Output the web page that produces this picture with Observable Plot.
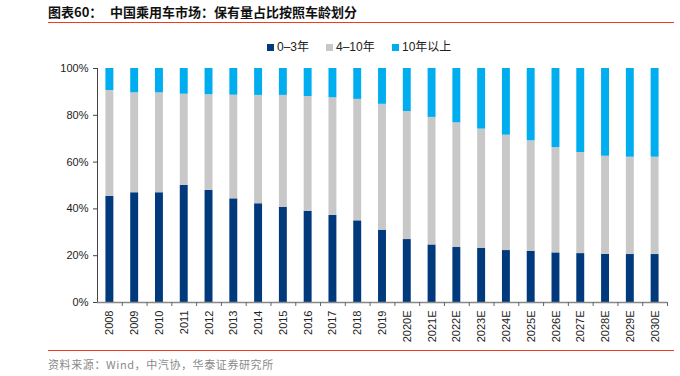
<!DOCTYPE html>
<html>
<head>
<meta charset="utf-8">
<script src="https://cdn.jsdelivr.net/npm/d3@7"></script>
<script src="https://cdn.jsdelivr.net/npm/@observablehq/plot@0.6"></script>
<style>
  html, body { margin: 0; padding: 0; background: #fff; }
  #wrap { position: relative; width: 680px; height: 376px; overflow: hidden; font-family: "Liberation Sans", Arial, "Noto Sans CJK SC", sans-serif; }
  #chart { position: absolute; left: 0; top: 0; }
  .abs { position: absolute; white-space: nowrap; }
  .rule { position: absolute; left: 48px; width: 626px; height: 1px; background: #EE3B22; }
  .title { font-family: "Noto Sans CJK SC", sans-serif; font-weight: bold; font-size: 13px; color: #111; line-height: 16px; }
  .src { font-family: "Noto Sans CJK SC", sans-serif; font-size: 11px; color: #8a8a8a; line-height: 14px; letter-spacing: 0.6px; }
  .leg { font-family: "Liberation Sans", Arial, "Noto Sans CJK SC", sans-serif; font-size: 12px; color: #222; line-height: 14px; display: flex; align-items: center; }
  .sw { display: inline-block; width: 7px; height: 7px; margin-right: 3px; }
</style>
</head>
<body>
<div id="wrap">
  <div id="chart"></div>
  <div class="abs title" style="left:48px; top:4px;">图表60：</div>
  <div class="abs title" style="left:110px; top:4px;">中国乘用车市场：保有量占比按照车龄划分</div>
  <div class="rule" style="top:22px;"></div>
  <div id="legend"></div>
  <div class="rule" style="top:350px;"></div>
  <div class="abs src" style="left:48px; top:357px;">资料来源：Wind，中汽协，华泰证券研究所</div>
</div>
<script>
const years = ["2008","2009","2010","2011","2012","2013","2014","2015","2016","2017","2018","2019","2020E","2021E","2022E","2023E","2024E","2025E","2026E","2027E","2028E","2029E","2030E"];
const seriesNames = ["0-3年", "4-10年", "10年以上"];
const seriesColors = ["#003A7D", "#C8C8C8", "#00AEEF"];
const share0to3 = [45.4, 46.9, 46.9, 50.0, 47.9, 44.3, 42.2, 40.6, 39.0, 37.2, 34.9, 30.9, 26.9, 24.6, 23.5, 23.1, 22.2, 21.8, 21.2, 20.9, 20.6, 20.5, 20.5];
const share4to10 = [45.2, 42.7, 42.7, 39.0, 40.9, 44.3, 46.3, 47.9, 49.0, 50.3, 51.9, 53.8, 54.7, 54.5, 53.3, 51.0, 49.3, 47.3, 45.0, 43.2, 41.9, 41.6, 41.6];
const share10plus = [9.4, 10.4, 10.4, 11.0, 11.2, 11.4, 11.5, 11.5, 12.0, 12.5, 13.2, 15.3, 18.4, 20.9, 23.2, 25.9, 28.5, 30.9, 33.8, 35.9, 37.5, 37.9, 37.9];
const yTicks = [0, 20, 40, 60, 80, 100];

const seriesValues = [share0to3, share4to10, share10plus];
const data = [];
seriesNames.forEach((s, si) => {
  years.forEach((yr, i) => data.push({ year: yr, series: s, value: seriesValues[si][i] }));
});

const W = 680, H = 376;
const mL = 97, mR = 13, mT = 68, mB = 74;
const step = (W - mL - mR) / years.length;

const chart = Plot.plot({
  width: W,
  height: H,
  marginLeft: mL,
  marginRight: mR,
  marginTop: mT,
  marginBottom: mB,
  style: { fontFamily: "'Liberation Sans', Arial, sans-serif", fontSize: "11px", color: "#222", background: "transparent" },
  x: { domain: years, type: "band", paddingInner: 0.68, paddingOuter: 0.34, round: false, label: null },
  y: { domain: [0, 100], label: null },
  color: { domain: seriesNames, range: seriesColors },
  marks: [
    Plot.barY(data, { x: "year", y: "value", fill: "series", insetTop: 0, insetBottom: 0 }),
    Plot.axisY({ ticks: yTicks, tickFormat: d => d + "%", tickSize: 4, tickPadding: 5, stroke: "#444", fill: "#222", fontSize: 11 }),
    Plot.ruleX([0], { x: () => years[0], dx: -step / 2, y1: 0, y2: 100, stroke: "#444" }),
    Plot.ruleY([0], { stroke: "#888", strokeWidth: 1.5 }),
    Plot.axisX({ ticks: years, tickSize: 4, text: null, dx: step / 2, stroke: "#666" }),
    Plot.axisX({ ticks: years, tickSize: 0, tickPadding: 8, tickRotate: -90, fontSize: 11, fill: "#222" })
  ]
});
document.getElementById("chart").appendChild(chart);

// legend
const legend = document.getElementById("legend");
const legX = [267, 326, 392];
seriesNames.forEach((s, i) => {
  const d = document.createElement("div");
  d.className = "abs leg";
  d.style.left = legX[i] + "px";
  d.style.top = "40px";
  const sw = document.createElement("span");
  sw.className = "sw";
  sw.style.background = seriesColors[i];
  d.appendChild(sw);
  const t = document.createElement("span");
  t.textContent = s.replace("-", "–");
  d.appendChild(t);
  legend.appendChild(d);
});
</script>
</body>
</html>
